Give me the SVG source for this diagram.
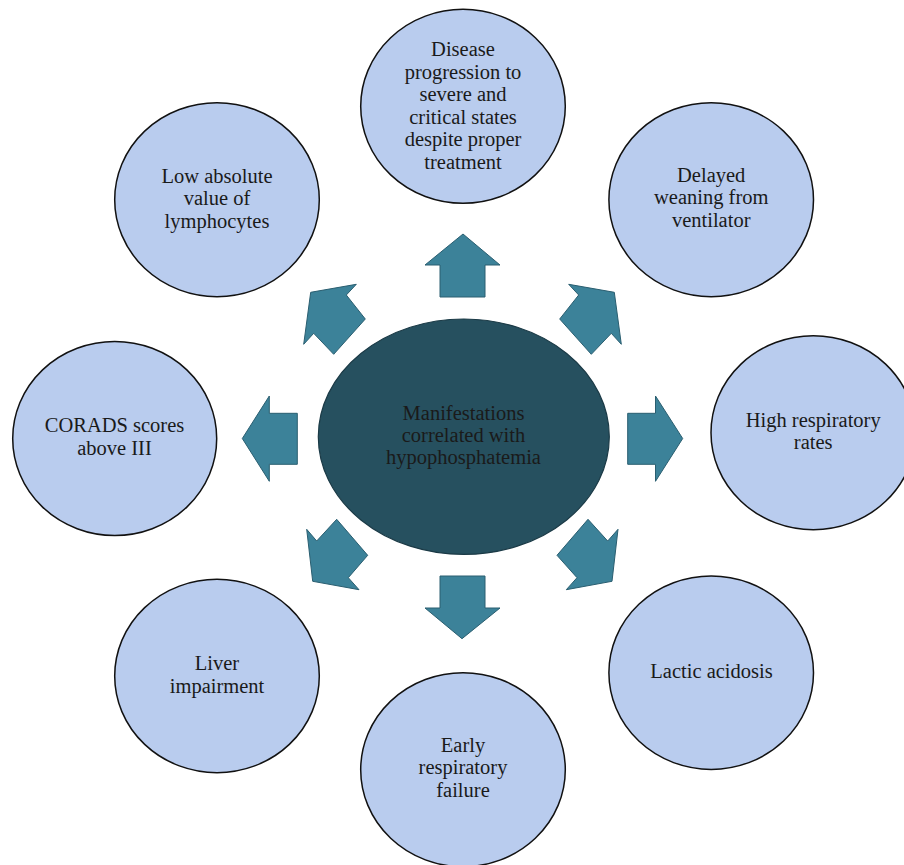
<svg xmlns="http://www.w3.org/2000/svg" width="904" height="865" viewBox="0 0 904 865">
<style>
.bg{fill:#ffffff}
.node{fill:#b9ccee;stroke:#111;stroke-width:1.5}
.core{fill:#26505f;stroke:#1b3a46;stroke-width:1.2}
.arr{fill:#3c8299;stroke:#2a5e70;stroke-width:1}
text{font-family:"Liberation Serif","DejaVu Serif",serif;font-size:20.5px;fill:#1a1a1a;text-anchor:middle}
</style>
<rect class="bg" width="904" height="865"/>
<g id="connectors">
<polygon class="arr" points="463,234 425,265 440,265 440,297 485,297 485,265 500,265"/>
<polygon class="arr" points="462,638.7 425,608 440,608 440,576 485,576 485,608 500,608"/>
<polygon class="arr" points="682.7,438.5 655.5,396 655.5,413.3 627.7,413.3 627.7,464.3 655.5,464.3 655.5,481.3"/>
<polygon class="arr" points="242.3,438.5 269.3,396 269.3,413.3 297.3,413.3 297.3,464.3 269.3,464.3 269.3,481.3"/>
<polygon class="arr" points="568.7,284.3 614.3,292.3 621.3,344.3 611.3,333.3 591.3,354.3 559.7,319 578.7,295"/>
<polygon class="arr" points="356.3,284.3 310.7,292.3 303.7,344.3 313.7,333.3 333.7,354.3 365.3,319 346.3,295"/>
<polygon class="arr" points="566.3,589.7 612,581.3 618,529.3 607.7,541 588,519.3 557,555.3 577,577.7"/>
<polygon class="arr" points="359,589.7 312.7,581.3 306.7,529.3 316.7,541 336.7,519.3 367.7,555.3 348.3,577.7"/>
</g>
<g id="center">
<ellipse class="core" cx="463.8" cy="436.7" rx="145.5" ry="117.7"/>
<text x="463.5" y="420">Manifestations</text>
<text x="463.5" y="442">correlated with</text>
<text x="463.5" y="464.3">hypophosphatemia</text>
</g>
<g id="n-top">
<ellipse class="node" cx="463" cy="106.3" rx="102.3" ry="97"/>
<text x="463" y="56">Disease</text>
<text x="463" y="78.5">progression to</text>
<text x="463" y="101">severe and</text>
<text x="463" y="123.5">critical states</text>
<text x="463" y="146">despite proper</text>
<text x="463" y="168.5">treatment</text>
</g>
<g id="n-upper-left">
<ellipse class="node" cx="217" cy="199.7" rx="102.3" ry="97"/>
<text x="217" y="182.7">Low absolute</text>
<text x="217" y="205.2">value of</text>
<text x="217" y="227.7">lymphocytes</text>
</g>
<g id="n-upper-right">
<ellipse class="node" cx="711.2" cy="199.7" rx="102.3" ry="97"/>
<text x="711.2" y="181.7">Delayed</text>
<text x="711.2" y="204.3">weaning from</text>
<text x="711.2" y="227">ventilator</text>
</g>
<g id="n-left">
<ellipse class="node" cx="114.7" cy="438.5" rx="102" ry="97"/>
<text x="114.5" y="432.2">CORADS scores</text>
<text x="114.5" y="454.7">above III</text>
</g>
<g id="n-right">
<ellipse class="node" cx="813.3" cy="432.7" rx="102.3" ry="97"/>
<text x="813.2" y="426.7">High respiratory</text>
<text x="813.2" y="448.7">rates</text>
</g>
<g id="n-lower-left">
<ellipse class="node" cx="217" cy="676" rx="102.3" ry="96.7"/>
<text x="217" y="669.7">Liver</text>
<text x="217" y="692.7">impairment</text>
</g>
<g id="n-lower-right">
<ellipse class="node" cx="711.2" cy="672.7" rx="102.3" ry="96.7"/>
<text x="711.5" y="678">Lactic acidosis</text>
</g>
<g id="n-bottom">
<ellipse class="node" cx="463" cy="769.7" rx="102.3" ry="97"/>
<text x="463" y="751.5">Early</text>
<text x="463" y="774">respiratory</text>
<text x="463" y="796.8">failure</text>
</g>
</svg>
